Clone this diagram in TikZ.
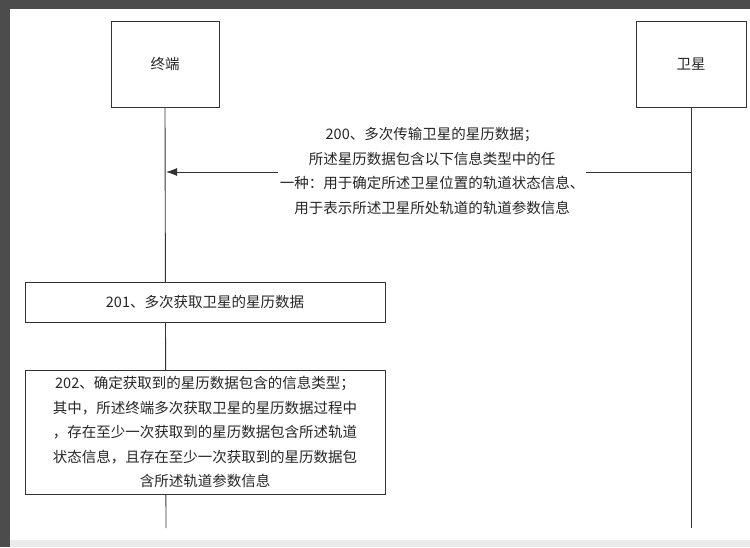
\documentclass[tikz,border=0pt]{standalone}
\usepackage{fontspec}
\usetikzlibrary{arrows.meta}
\newfontfamily\cjk{Noto Sans CJK SC}
\begin{document}
\begin{tikzpicture}[x=1pt,y=-1pt,
  every node/.style={font=\cjk\fontsize{14.5}{24.5}\selectfont, text=black!85},
  box/.style={draw=black!80, line width=0.9pt, fill=white, inner sep=0pt},
  life/.style={draw=black!80, line width=0.9pt}]
\useasboundingbox (0,0) rectangle (750,547);
\fill[black!70] (0,0) rectangle (750,547);
\fill[black!8] (10,9) rectangle (750,547);
\fill[white] (10,9) rectangle (750,540);
\node[box, minimum width=108pt, minimum height=86pt] (t) at (165,64) {终端};
\node[box, minimum width=110pt, minimum height=86pt] (s) at (691,64) {卫星};
\coordinate (te) at (166,528);
\coordinate (se) at (691,528);
\draw[life] (t.south) -- (te);
\draw[life] (s.south) -- (se);
\coordinate (a1) at (691,172);
\coordinate (a2) at (166,172);
\draw[life, -{Latex[length=11pt,width=8pt]}] (a1) -- (a2);
\node[fill=white, align=center, inner sep=2pt] (m) at (432,171)
 {200、多次传输卫星的星历数据；\\所述星历数据包含以下信息类型中的任\\一种：用于确定所述卫星位置的轨道状态信息、\\用于表示所述卫星所处轨道的轨道参数信息};
\node[box, minimum width=360pt, minimum height=40pt] (b1) at (205,302) {201、多次获取卫星的星历数据};
\node[box, minimum width=360pt, minimum height=124pt, align=center] (b2) at (205,432)
 {202、确定获取到的星历数据包含的信息类型；\\其中，所述终端多次获取卫星的星历数据过程中\\，存在至少一次获取到的星历数据包含所述轨道\\状态信息，且存在至少一次获取到的星历数据包\\含所述轨道参数信息};
\end{tikzpicture}
\end{document}
